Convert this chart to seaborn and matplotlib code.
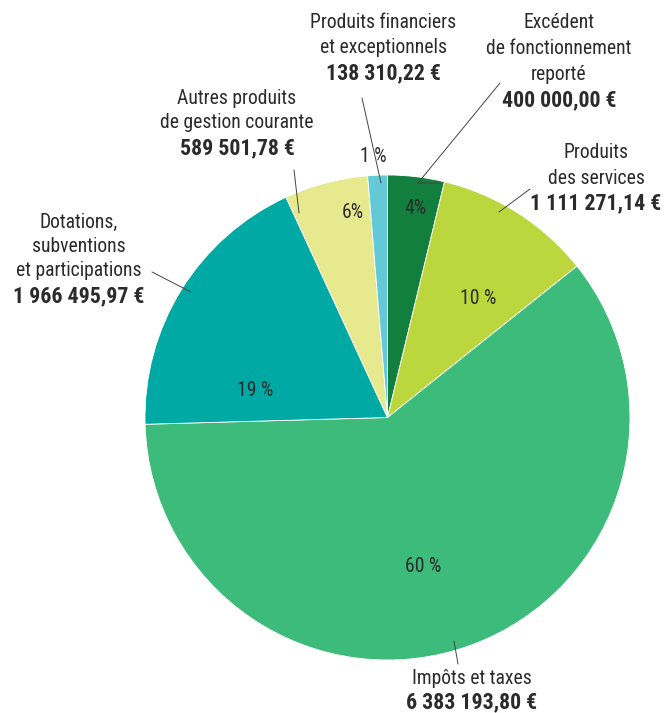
import matplotlib
matplotlib.use("Agg")
import matplotlib.pyplot as plt
from matplotlib import font_manager
import seaborn as sns

categories = ["Excédent de fonctionnement reporté", "Produits des services", "Impôts et taxes",
              "Dotations, subventions et participations", "Autres produits de gestion courante",
              "Produits financiers et exceptionnels"]
values = [400000.00, 1111271.14, 6383193.80, 1966495.97, 589501.78, 138310.22]
pct_labels = ["4%", "10 %", "60 %", "19 %", "6%", "1 %"]
name_labels = ["Excédent\nde fonctionnement\nreporté", "Produits\ndes services", "Impôts et taxes",
               "Dotations,\nsubventions\net participations", "Autres produits\nde gestion courante",
               "Produits financiers\net exceptionnels"]
amount_labels = ["400 000,00 €", "1 111 271,14 €", "6 383 193,80 €", "1 966 495,97 €",
                 "589 501,78 €", "138 310,22 €"]
colors = ["#127F3F", "#BCD63E", "#3DBB7A", "#00A9A4", "#E6E98D", "#63C9D6"]

sns.set_style("white")
entries = font_manager.fontManager.ttflist
names = {f.name for f in entries}
stretch = "normal"
if "Roboto Condensed" in names:
    fam = "Roboto Condensed"
elif any(f.name == "DejaVu Sans" and str(f.stretch) in ("condensed", "semi-condensed", "75", "87.5") for f in entries):
    fam = "DejaVu Sans"
    stretch = "condensed"
elif "Roboto" in names:
    fam = "Roboto"
else:
    fam = "DejaVu Sans"
plt.rcParams["font.family"] = [fam, "DejaVu Sans"]
plt.rcParams["font.stretch"] = stretch

W, H = 665, 713
fig = plt.figure(figsize=(W / 100, H / 100), dpi=100)
ax = fig.add_axes([0, 0, 1, 1])

renderer = fig.canvas.get_renderer()
probe = fig.text(0, 0, "Produits financiers", fontsize=14)
w = probe.get_window_extent(renderer).width
probe.remove()
fs = 14 * 147.0 / w
fs = max(11.0, min(fs, 14.5))
probe = fig.text(0, 0, "1 111 271,14 €", fontsize=fs, fontweight="bold")
wb = probe.get_window_extent(renderer).width
probe.remove()
fsb = fs * 131.0 / wb
fsb = max(fs, min(fsb, fs * 1.2))

cx, cy, r = 387.5, H - 417.5, 242.5
ax.pie(values, colors=colors, startangle=90, counterclock=False, center=(cx, cy), radius=r,
       wedgeprops=dict(edgecolor="white", linewidth=0.6), frame=True)
ax.set_xlim(0, W)
ax.set_ylim(0, H)
ax.set_aspect("equal")
ax.axis("off")

tc = "#2b2b2b"

def Y(y):
    return H - y

pct_pos = [(415, 208), (478, 298), (423, 566), (255, 390), (353, 213), (373, 157)]
for (x, y), t in zip(pct_pos, pct_labels):
    ax.text(x, Y(y), t, ha="center", va="center", fontsize=fs, color=tc)

# (x center, y of first line, line spacing)
name_pos = [(559, 23, 25.5), (596, 153, 25), (472, 679, 22.5), (79, 222, 24.5),
            (237, 98, 25), (383, 22, 25.5)]
for (x, y, lh), n, a in zip(name_pos, name_labels, amount_labels):
    lines = n.split("\n")
    for i, ln in enumerate(lines):
        ax.text(x, Y(y + i * lh), ln, ha="center", va="center", fontsize=fs, color=tc)
    ax.text(x, Y(y + len(lines) * lh + 0.5), a, ha="center", va="center", fontsize=fsb,
            color=tc, fontweight="bold")

leaders = [
    [(500, 83), (418, 183), (440, 183)],
    [(530, 189), (499, 212)],
    [(454, 641), (458, 664)],
    [(152, 272), (191, 292)],
    [(294, 170), (299, 213)],
    [(362, 98), (381, 183)],
]
for pts in leaders:
    ax.plot([p[0] for p in pts], [Y(p[1]) for p in pts], color="#444444", lw=0.7)

fig.savefig("out.png", dpi=100, facecolor="white")
